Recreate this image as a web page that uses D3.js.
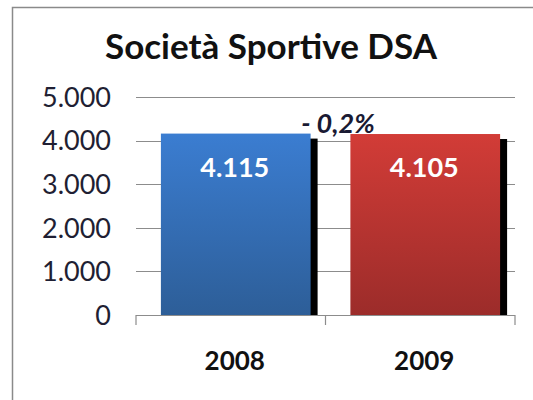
<!DOCTYPE html>
<html><head><meta charset="utf-8">
<script src="https://cdn.jsdelivr.net/npm/d3@7"></script>
<style>html,body{margin:0;padding:0;background:#fff;}svg{display:block;}</style>
</head><body>
<script>
const categories = ["2008", "2009"];
const values = [4115, 4105];
const valueLabels = ["4.115", "4.105"];
const yTicks = [0, 1000, 2000, 3000, 4000, 5000];
const yTickLabels = ["0", "1.000", "2.000", "3.000", "4.000", "5.000"];
const title = "Società Sportive DSA";
const changeLabel = "- 0,2%";

const W = 533, H = 400;
const svg = d3.select("body").append("svg").attr("width", W).attr("height", H);
const font = "Lato, 'Open Sans', sans-serif";

const defs = svg.append("defs");
const grads = [["gBlue", "#3b7dd1", "#2d5e98"], ["gRed", "#d23c37", "#9c2c2a"]];
grads.forEach(([id, c1, c2]) => {
  const g = defs.append("linearGradient").attr("id", id).attr("x1", 0).attr("y1", 0).attr("x2", 0).attr("y2", 1);
  g.append("stop").attr("offset", "0%").attr("stop-color", c1);
  g.append("stop").attr("offset", "100%").attr("stop-color", c2);
});

// chart border
svg.append("rect").attr("x", 12.5).attr("y", 7.5).attr("width", 600).attr("height", 500)
  .attr("fill", "none").attr("stroke", "#8a8a8a").attr("stroke-width", 1.5);

const x0 = 136, x1 = 515;
const y = d3.scaleLinear().domain([0, 5000]).range([315, 97]);
const xAxisScale = d3.scaleBand().domain(categories).range([x0, x1]);
const x = d3.scaleBand().domain(categories).range([x0 + 5, x1 + 5]).paddingInner(0.21).paddingOuter(0.105);

// gridlines
svg.append("g").selectAll("line").data(yTicks.filter(d => d > 0)).join("line")
  .attr("x1", x0).attr("x2", x1).attr("y1", d => Math.round(y(d)) + 0.5).attr("y2", d => Math.round(y(d)) + 0.5)
  .attr("stroke", "#8c8c8c").attr("stroke-width", 1.2);

// y axis labels
svg.append("g").selectAll("text").data(yTicks).join("text")
  .attr("x", 111).attr("y", d => y(d)).attr("dy", "0.36em")
  .attr("text-anchor", "end").attr("font-family", font).attr("font-size", 27)
  .attr("fill", "#1f1f33").text((d, i) => yTickLabels[i]);

// bars with shadow
const bw = x.bandwidth();
const bars = svg.append("g").selectAll("g").data(categories).join("g");
bars.append("rect")
  .attr("x", d => x(d) + bw - 1).attr("y", (d, i) => y(values[i]) + 3)
  .attr("width", 8).attr("height", (d, i) => y(0) - y(values[i]) - 3).attr("fill", "#000");
bars.append("rect")
  .attr("x", d => x(d)).attr("y", (d, i) => y(values[i]) - 2)
  .attr("width", bw).attr("height", (d, i) => y(0) - y(values[i]) + 2)
  .attr("fill", (d, i) => i === 0 ? "url(#gBlue)" : "url(#gRed)");
bars.append("text")
  .attr("x", d => x(d) + bw / 2 - 1).attr("y", (d, i) => y(values[i]) + 41)
  .attr("text-anchor", "middle").attr("font-family", font).attr("font-weight", "bold")
  .attr("font-size", 27).attr("fill", "#fff").text((d, i) => valueLabels[i]);

// x axis
const xa = svg.append("g").attr("stroke", "#8c8c8c").attr("stroke-width", 1.2);
xa.append("line").attr("x1", x0).attr("x2", x1).attr("y1", 315.5).attr("y2", 315.5);
[x0, (x0 + x1) / 2, x1].forEach(px => {
  xa.append("line").attr("x1", px).attr("x2", px).attr("y1", 315).attr("y2", 325);
});
svg.append("g").selectAll("text").data(categories).join("text")
  .attr("x", d => xAxisScale(d) + xAxisScale.bandwidth() / 2 + 4).attr("y", 370)
  .attr("text-anchor", "middle").attr("font-family", font).attr("font-weight", "bold")
  .attr("font-size", 26).attr("fill", "#111").text(d => d);

// change label
svg.append("text").attr("x", 338).attr("y", 133)
  .attr("text-anchor", "middle").attr("font-family", font).attr("font-weight", "bold")
  .attr("font-style", "italic").attr("font-size", 27).attr("fill", "#1a1a33").text(changeLabel);

// title
svg.append("text").attr("x", 271).attr("y", 59)
  .attr("text-anchor", "middle").attr("font-family", font).attr("font-weight", "bold")
  .attr("font-size", 35).attr("fill", "#111").text(title);
</script>
</body></html>
